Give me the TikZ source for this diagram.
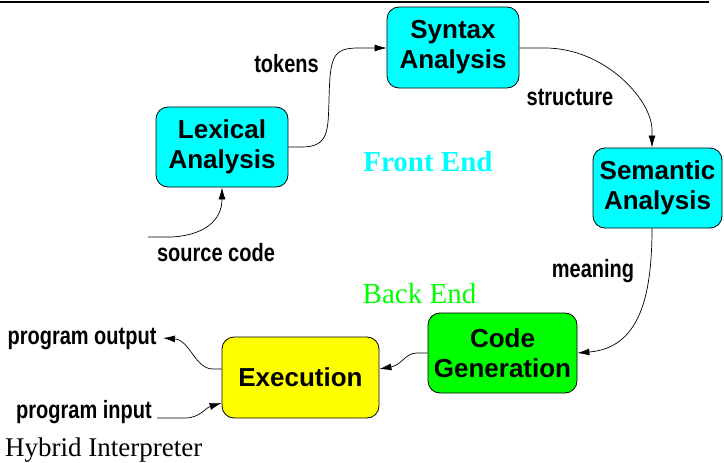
\documentclass[tikz,border=0pt]{standalone}
\usepackage{fontspec}
\setmainfont{Liberation Serif}
\setsansfont{Liberation Sans}
\newfontfamily\lblfont[FakeStretch=0.8]{Liberation Sans}
\usetikzlibrary{arrows.meta,calc}
\definecolor{boxcyan}{RGB}{0,255,255}
\definecolor{boxgreen}{RGB}{0,255,0}
\definecolor{boxyellow}{RGB}{255,255,0}
\begin{document}
\begin{tikzpicture}[x=1pt,y=-1pt,
  phase/.style={draw=black,line width=0.8pt,rounded corners=12pt,inner sep=0pt,
    align=center,font=\sffamily\bfseries\fontsize{26}{30}\selectfont},
  flow/.style={draw=black,line width=0.7pt,-{Latex[length=12pt,width=7pt]}},
  lbl/.style={inner sep=0pt,anchor=base,font=\lblfont\bfseries\fontsize{25}{28}\selectfont},
  region/.style={inner sep=0pt,anchor=base,font=\rmfamily\fontsize{29}{34}\selectfont}]
\useasboundingbox (0,0) rectangle (724,463);

% rule across the top
\draw[line width=2.5pt] (0,2) -- (709,2);

% compiler phases
\node[phase,fill=boxcyan,minimum width=132pt,minimum height=81pt] (syn) at (453,47.5) {Syntax\\Analysis};
\node[phase,fill=boxcyan,minimum width=132pt,minimum height=80pt] (lex) at (222,147) {Lexical\\Analysis};
\node[phase,fill=boxcyan,minimum width=129pt,minimum height=80pt] (sem) at (657.5,188) {Semantic\\Analysis};
\node[phase,fill=boxgreen,minimum width=149pt,minimum height=80pt] (cg) at (502.5,353) {Code\\Generation};
\node[phase,fill=boxyellow,minimum width=157pt,minimum height=81pt] (ex) at (300.5,377.5) {Execution};

% edge labels
\node[lbl] (tok) at (286.5,72.5) {tokens};
\node[lbl] (str) at (570,105) {structure};
\node[lbl] (mean) at (593,277) {meaning};
\node[lbl] (srclbl) at (216,261) {source code};
\node[lbl] (pout) at (82,344) {program output};
\node[lbl] (pin) at (84,418) {program input};

% region titles
\node[region,text=boxcyan,font=\rmfamily\bfseries\fontsize{29}{34}\selectfont] (fe) at (428,171.5) {Front End};
\node[region,text=boxgreen] (be) at (419.5,303) {Back End};
\node[inner sep=0pt,anchor=base west,font=\rmfamily\fontsize{27}{30}\selectfont] (cap) at (5,456.5) {Hybrid Interpreter};

% connectors
\coordinate (src) at (148,237);
\coordinate (outtip) at (163,338);
\coordinate (intail) at (157,418);

\draw[flow] (src) -- (172,237) .. controls (205,235) and (222,220) .. (lex.south);
\draw[flow] (lex.east) -- (302,147) .. controls (329,147) and (328,130) .. (329,100)
  .. controls (330,58) and (332,48) .. (358,48) -- ([yshift=-0.5pt]syn.west);
\draw[flow] ([yshift=-0.5pt]syn.east) -- (545,48) .. controls (605,48) and (652,100) .. (652,130)
  -- ([xshift=-5.5pt]sem.north);
\draw[flow] ([xshift=-5.5pt]sem.south) .. controls (652,300) and (638,348) .. (cg.east);
\draw[flow] (cg.west) -- (417,353) .. controls (405,353) and (402,365) .. ([yshift=8.5pt]ex.east);
\draw[flow] ([yshift=8.5pt]ex.west) -- (213,369) .. controls (195,369) and (190,340) .. (outtip);
\draw[flow] (intail) -- (185,418) .. controls (200,418) and (205,408) .. ([yshift=-25.5pt]ex.west);
\end{tikzpicture}
\end{document}
